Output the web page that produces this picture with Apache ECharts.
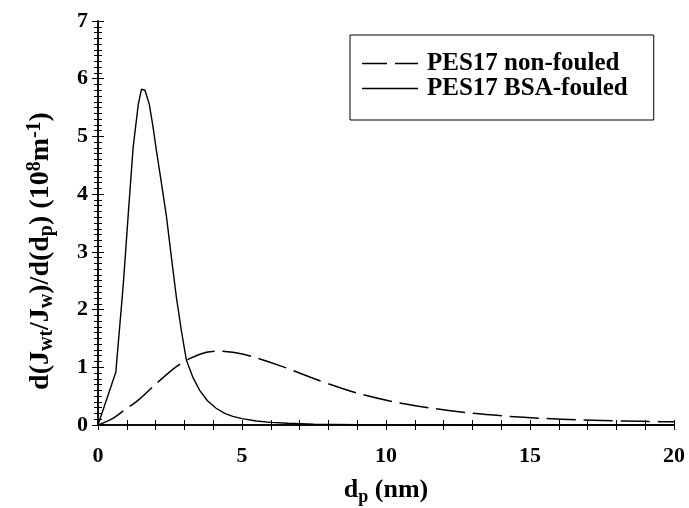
<!DOCTYPE html>
<html>
<head>
<meta charset="utf-8">
<script src="https://cdn.jsdelivr.net/npm/echarts@6/dist/echarts.min.js"></script>
<style>
  html, body { margin: 0; padding: 0; background: #fff; }
  #chart { width: 689px; height: 508px; }
</style>
</head>
<body>
<div id="chart"></div>
<script>
'use strict';

const seriesNames = ['PES17 non-fouled', 'PES17 BSA-fouled'];

const nonFouledX = [0, 0.5, 1.0, 1.4, 2.03, 2.72, 3.18, 3.76, 4.22, 4.68, 5.32, 6.36, 7.68, 8.95, 10.28, 11.6, 12.87, 14.14, 15.4, 16.8, 18.2, 19.5, 20];
const nonFouledY = [0, 0.11, 0.29, 0.43, 0.72, 1.01, 1.15, 1.26, 1.28, 1.26, 1.19, 1.02, 0.77, 0.56, 0.40, 0.29, 0.21, 0.155, 0.115, 0.086, 0.069, 0.058, 0.055];

const fouledX = [0, 0.62, 0.88, 1.05, 1.22, 1.4, 1.51, 1.63, 1.78, 1.9, 2.03, 2.2, 2.38, 2.55, 2.72, 2.9, 3.07, 3.3, 3.53, 3.8, 4.1, 4.4, 4.68, 5.0, 5.5, 6.0, 6.6, 7.5, 9, 12, 16, 20];
const fouledY = [0, 0.92, 2.45, 3.65, 4.81, 5.56, 5.82, 5.8, 5.56, 5.2, 4.75, 4.2, 3.6, 2.9, 2.22, 1.62, 1.12, 0.82, 0.6, 0.42, 0.29, 0.2, 0.15, 0.11, 0.07, 0.045, 0.03, 0.015, 0.007, 0.002, 0, 0];

const xTicks = { min: 0, max: 20, interval: 5 };
const yTicks = { min: 0, max: 7, interval: 1 };

const FONT = 'Liberation Serif';
const zip = (xs, ys) => xs.map((x, i) => [x, ys[i]]);

const axisLine = { lineStyle: { color: '#000', width: 1.5 } };
const tickLabel = { fontFamily: FONT, fontWeight: 'bold', fontSize: 22, color: '#000' };

const makeRich = (size, subSize) => ({
  n: { fontFamily: FONT, fontWeight: 'bold', fontSize: size, color: '#000', lineHeight: 32, verticalAlign: 'middle' },
  s: { fontFamily: FONT, fontWeight: 'bold', fontSize: subSize, color: '#000', lineHeight: 16, verticalAlign: 'bottom' },
  u: { fontFamily: FONT, fontWeight: 'bold', fontSize: subSize, color: '#000', lineHeight: 16, verticalAlign: 'top' },
});

const chart = echarts.init(document.getElementById('chart'), null, { renderer: 'canvas' });

chart.setOption({
  animation: false,
  backgroundColor: '#fff',
  grid: { left: 98, right: 15, top: 21, bottom: 83, outerBoundsMode: 'none', containLabel: false },
  legend: {
    data: [
      { name: seriesNames[0], icon: 'path://M0,0h25v1.5h-25zM33,0h23v1.5h-23z' },
      { name: seriesNames[1], icon: 'path://M0,0h56v1.5h-56z' },
    ],
    orient: 'vertical',
    left: 350,
    top: 35,
    padding: [16, 26, 19, 12],
    itemGap: 0,
    itemWidth: 56,
    itemHeight: 1.5,
    borderColor: '#000',
    borderWidth: 1,
    textStyle: { fontFamily: FONT, fontWeight: 'bold', fontSize: 25, lineHeight: 24, color: '#000', padding: [0, 0, 0, 4] },
  },
  xAxis: [
    {
      type: 'value',
      min: xTicks.min,
      max: xTicks.max,
      interval: xTicks.interval,
      name: '{n|d}{s|p}{n| (nm)}',
      nameLocation: 'middle',
      nameGap: 49,
      nameTextStyle: { rich: makeRich(26, 18) },
      axisLine: axisLine,
      axisTick: { inside: false, length: 5, lineStyle: { color: '#000' } },
      minorTick: { show: true, splitNumber: 5, length: 5, lineStyle: { color: '#000' } },
      axisLabel: Object.assign({ margin: 20 }, tickLabel),
      splitLine: { show: false },
    },
    {
      type: 'value',
      position: 'top',
      min: xTicks.min,
      max: xTicks.max,
      interval: xTicks.interval,
      axisLine: axisLine,
      axisTick: { inside: false, length: 5, lineStyle: { color: '#000' } },
      minorTick: { show: true, splitNumber: 5, length: 5, lineStyle: { color: '#000' } },
      axisLabel: { show: false },
      splitLine: { show: false },
    },
  ],
  yAxis: [
    {
      type: 'value',
      min: yTicks.min,
      max: yTicks.max,
      interval: yTicks.interval,
      name: '{n|d(J}{s|wt}{n|/J}{s|w}{n|)/d(d}{s|p}{n|) (10}{u|8}{n|m}{u|-1}{n|)}',
      nameLocation: 'middle',
      nameGap: 41,
      nameTextStyle: { rich: makeRich(28, 20), padding: [0, 56, 0, 0] },
      axisLine: axisLine,
      axisTick: { inside: false, length: 6, lineStyle: { color: '#000' } },
      minorTick: { show: true, splitNumber: 10, length: 4, lineStyle: { color: '#000' } },
      axisLabel: Object.assign({ margin: 10 }, tickLabel),
      splitLine: { show: false },
    },
    {
      type: 'value',
      position: 'right',
      min: yTicks.min,
      max: yTicks.max,
      interval: yTicks.interval,
      axisLine: axisLine,
      axisTick: { inside: false, length: 6, lineStyle: { color: '#000' } },
      minorTick: { show: true, splitNumber: 10, length: 4, lineStyle: { color: '#000' } },
      axisLabel: { show: false },
      splitLine: { show: false },
    },
  ],
  series: [
    {
      name: seriesNames[0],
      type: 'line',
      data: zip(nonFouledX, nonFouledY),
      smooth: 0.3,
      symbol: 'none',
      lineStyle: { color: '#000', width: 1.5, type: [29, 8] },
      itemStyle: { color: '#000' },
    },
    {
      name: seriesNames[1],
      type: 'line',
      data: zip(fouledX, fouledY),
      smooth: false,
      symbol: 'none',
      lineStyle: { color: '#000', width: 1.4, type: 'solid' },
      itemStyle: { color: '#000' },
    },
  ],
});
</script>
</body>
</html>
